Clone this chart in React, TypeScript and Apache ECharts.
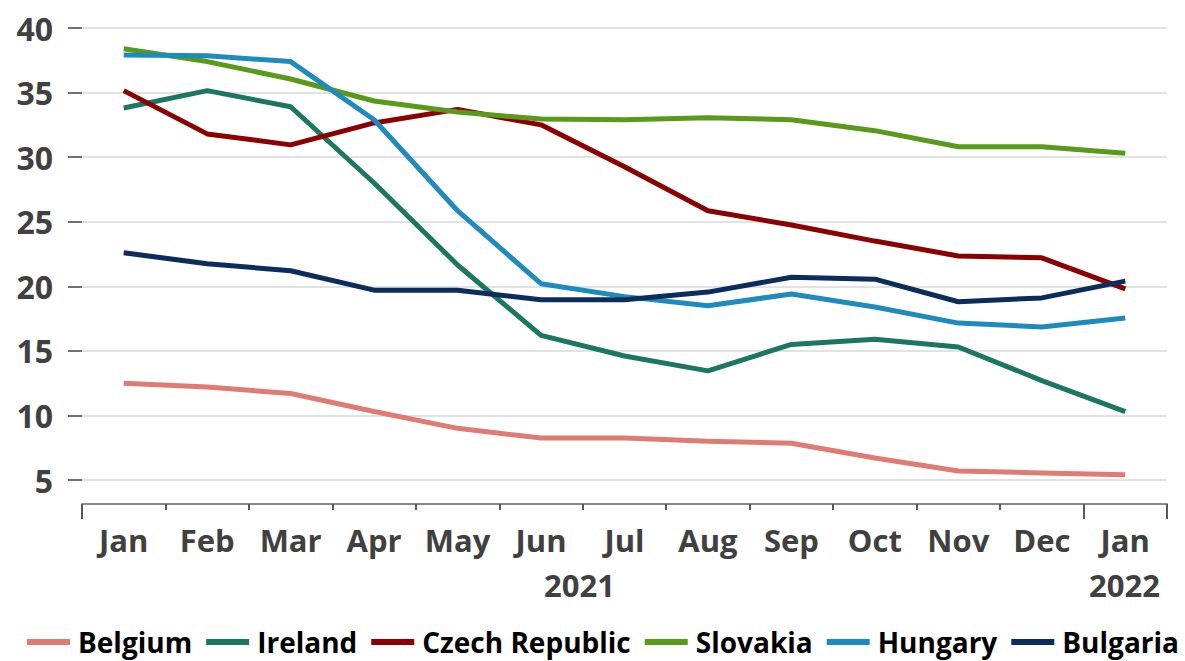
import React, { useEffect, useRef } from "react";
import * as echarts from "echarts";

const months = ["Jan", "Feb", "Mar", "Apr", "May", "Jun", "Jul", "Aug", "Sep", "Oct", "Nov", "Dec", "Jan"];
const yearLabels = ["2021", "2022"];
const seriesNames = ["Belgium", "Ireland", "Czech Republic", "Slovakia", "Hungary", "Bulgaria"];
const belgium = [12.5, 12.2, 11.7, 10.3, 9.0, 8.25, 8.25, 8.0, 7.85, 6.7, 5.7, 5.55, 5.4];
const ireland = [33.8, 35.15, 33.9, 28.0, 21.65, 16.2, 14.6, 13.45, 15.5, 15.9, 15.3, 12.7, 10.3];
const czech = [35.15, 31.8, 30.95, 32.65, 33.7, 32.5, 29.25, 25.85, 24.75, 23.5, 22.35, 22.2, 19.8];
const slovakia = [38.4, 37.4, 36.05, 34.35, 33.5, 32.95, 32.9, 33.05, 32.9, 32.05, 30.8, 30.8, 30.3];
const hungary = [37.9, 37.85, 37.4, 32.9, 25.85, 20.2, 19.2, 18.5, 19.4, 18.4, 17.15, 16.85, 17.55];
const bulgaria = [22.6, 21.75, 21.2, 19.7, 19.7, 18.95, 18.95, 19.55, 20.7, 20.55, 18.8, 19.1, 20.4];

const colors = ["#E07B74", "#1B7762", "#8B0000", "#5A9A1A", "#1E8BBE", "#0B2C5C"];
const FONT = "'Open Sans', 'Noto Sans', sans-serif";

export default function App() {
  const ref = useRef<HTMLDivElement>(null);
  useEffect(() => {
    if (!ref.current) return;
    const chart = echarts.init(ref.current, null, { renderer: "svg" });
    const data = [belgium, ireland, czech, slovakia, hungary, bulgaria];
    chart.setOption({
      animation: false,
      color: colors,
      textStyle: { fontFamily: FONT },
      grid: { left: 82, right: 18, top: 28, bottom: 181, containLabel: false },
      legend: {
        left: 22,
        top: 622,
        itemWidth: 43,
        itemHeight: 6,
        itemGap: 14,
        icon: "rect",
        data: seriesNames,
        textStyle: {
          fontFamily: FONT,
          fontSize: 28,
          lineHeight: 30,
          fontWeight: "bold",
          color: "#000",
          padding: [0, 0, 0, 3],
        },
      },
      xAxis: [
        {
          type: "category",
          data: months,
          boundaryGap: true,
          offset: 24,
          axisLine: { lineStyle: { color: "#8a8a8a", width: 2 } },
          axisTick: { show: true, length: 6, interval: 0, lineStyle: { color: "#595959", width: 2 } },
          axisLabel: {
            interval: 0,
            hideOverlap: false,
            fontFamily: FONT,
            fontSize: 31,
            fontWeight: "bold",
            color: "#404040",
            margin: 20,
          },
          splitLine: { show: false },
        },
        {
          type: "category",
          data: months,
          boundaryGap: true,
          offset: 24,
          position: "bottom",
          axisLine: { show: false },
          axisTick: {
            show: true,
            length: 15,
            interval: (i: number) => i === 0 || i === 12,
            lineStyle: { color: "#595959", width: 2 },
          },
          axisLabel: { show: false },
          splitLine: { show: false },
        },
      ],
      yAxis: {
        type: "value",
        min: 5,
        max: 40,
        interval: 5,
        axisLine: { show: false },
        axisTick: { show: true, length: 14, lineStyle: { color: "#404040", width: 1.5 } },
        axisLabel: { fontFamily: FONT, fontSize: 32, fontWeight: "bold", color: "#404040", margin: 29 },
        splitLine: { lineStyle: { color: "#d9d9d9", width: 1.5 } },
      },
      graphic: [
        {
          type: "text",
          left: 544,
          top: 569,
          style: { text: yearLabels[0], font: `bold 31px ${FONT}`, fill: "#404040" },
        },
        {
          type: "text",
          left: 1089,
          top: 569,
          style: { text: yearLabels[1], font: `bold 31px ${FONT}`, fill: "#404040" },
        },
      ],
      series: seriesNames.map((name, i) => ({
        name,
        type: "line",
        data: data[i],
        symbol: "none",
        lineStyle: { width: 5, color: colors[i] },
        itemStyle: { color: colors[i] },
        xAxisIndex: 0,
      })),
    });
    return () => chart.dispose();
  }, []);
  return <div ref={ref} style={{ width: 1185, height: 661, position: "absolute", left: 0, top: 0 }} />;
}
